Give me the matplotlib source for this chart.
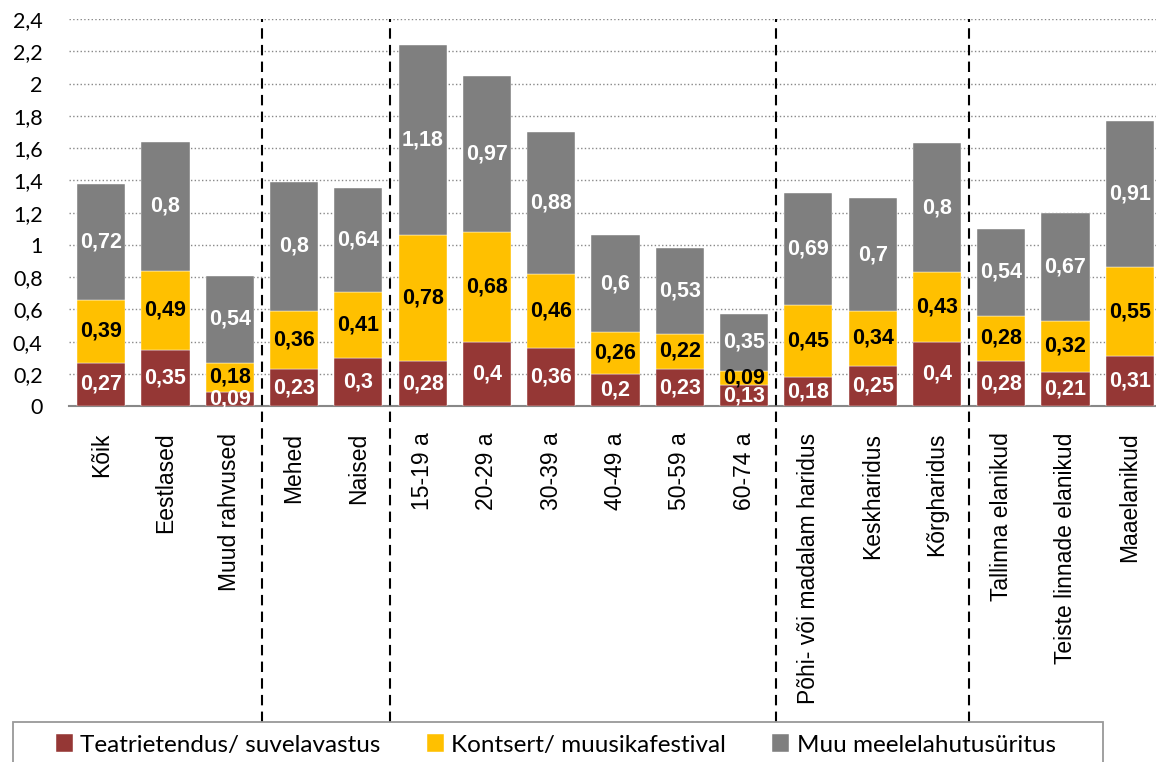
import matplotlib.pyplot as plt
from matplotlib.patches import Rectangle
import numpy as np

# categories and values
categories = ['Kõik', 'Eestlased', 'Muud rahvused', 'Mehed', 'Naised',
              '15-19 a', '20-29 a', '30-39 a', '40-49 a', '50-59 a', '60-74 a',
              'Põhi- või madalam haridus', 'Keskharidus', 'Kõrgharidus',
              'Tallinna elanikud', 'Teiste linnade elanikud', 'Maaelanikud']
teater = [0.27, 0.35, 0.09, 0.23, 0.3, 0.28, 0.4, 0.36, 0.2, 0.23, 0.13,
          0.18, 0.25, 0.4, 0.28, 0.21, 0.31]
kontsert = [0.39, 0.49, 0.18, 0.36, 0.41, 0.78, 0.68, 0.46, 0.26, 0.22, 0.09,
            0.45, 0.34, 0.43, 0.28, 0.32, 0.55]
muu = [0.72, 0.8, 0.54, 0.8, 0.64, 1.18, 0.97, 0.88, 0.6, 0.53, 0.35,
       0.69, 0.7, 0.8, 0.54, 0.67, 0.91]
series_names = ['Teatrietendus/ suvelavastus', 'Kontsert/ muusikafestival',
                'Muu meelelahutusüritus']
group_breaks = [2.5, 4.5, 10.5, 13.5]

colors = ['#953735', '#FFC000', '#7F7F7F']
text_colors = ['white', 'black', 'white']


def fmt(v):
    return ('%g' % v).replace('.', ',')


def main():
    fig = plt.figure(figsize=(11.56, 7.62), dpi=100)
    # plot area runs a little past the right edge, as in the original
    ax = fig.add_axes([69 / 1156, 0.467, 1093 / 1156, 0.508])
    x = np.arange(len(categories))
    bottom = np.zeros(len(categories))
    for vals, col, tcol, name in zip([teater, kontsert, muu], colors, text_colors, series_names):
        vals = np.array(vals)
        ax.bar(x, vals, 0.75, bottom=bottom, color=col, label=name, zorder=3,
               edgecolor='white', linewidth=0.3)
        for xi, b, v in zip(x, bottom, vals):
            ax.text(xi, b + v / 2, fmt(v), ha='center', va='center', color=tcol,
                    fontsize=15.5, fontweight='bold', family='Liberation Sans', zorder=4)
        bottom += vals

    ax.set_xlim(-0.5, len(categories) - 0.5)
    ax.set_ylim(0, 2.4)
    yt = np.arange(0, 2.41, 0.2)
    ax.set_yticks(yt)
    ax.set_yticklabels([fmt(round(v, 1)) for v in yt], family='Lato', fontsize=15.5)
    ax.set_xticks(x)
    ax.set_xticklabels(categories, rotation=90, family='Liberation Sans', fontsize=16.5,
                       va='top')
    ax.tick_params(axis='both', length=0)
    ax.tick_params(axis='y', pad=19)
    ax.tick_params(axis='x', pad=19)
    ax.grid(axis='y', linestyle=':', color='#888888', linewidth=1, zorder=0)
    for s in ['top', 'right', 'left']:
        ax.spines[s].set_visible(False)
    ax.spines['bottom'].set_color('#888888')
    ax.spines['bottom'].set_linewidth(1.5)

    for gb in group_breaks:
        ax.axvline(gb, ymin=-0.817, ymax=1.0, color='black', linestyle=(0, (5, 3)),
                   linewidth=1.5, clip_on=False, zorder=5)

    # legend frame (runs off the bottom edge like the original)
    fig.patches.append(Rectangle((13 / 1156, -0.05), 1090 / 1156, 0.05 + 40 / 762,
                                 transform=fig.transFigure, fill=False,
                                 edgecolor='#999999', linewidth=1.3))
    fig.legend(loc='center left', bbox_to_anchor=(56 / 1156, 17 / 762), ncol=3,
               frameon=False, prop={'family': 'Lato', 'size': 17.5}, handlelength=0.7,
               handleheight=0.7, handletextpad=0.3, columnspacing=1.9,
               borderpad=0, borderaxespad=0)

    fig.savefig('out.png', dpi=100)


if __name__ == '__main__':
    main()
